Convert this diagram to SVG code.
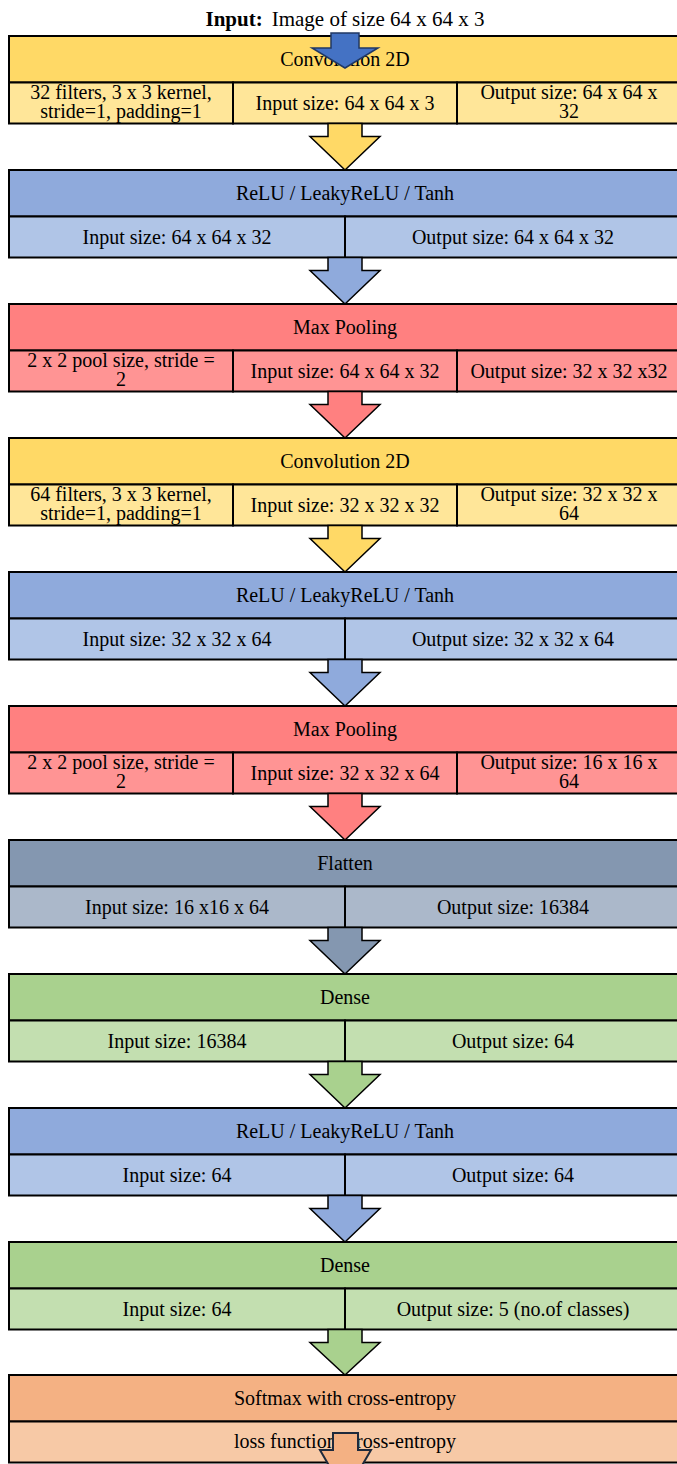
<svg xmlns="http://www.w3.org/2000/svg" width="677" height="1464" viewBox="0 0 677 1464">
<style>
rect{stroke:#000;stroke-width:2}
text{font-family:"Liberation Serif","Times New Roman",serif;font-size:20px;fill:#000;text-anchor:middle}
.conv-h{fill:#FFD966}.conv-s{fill:#FFE699}
.act-h{fill:#8FAADC}.act-s{fill:#B0C5E7}
.pool-h{fill:#FF8080}.pool-s{fill:#FF9494}
.flat-h{fill:#8497B0}.flat-s{fill:#ABB8CA}
.dense-h{fill:#A9D18E}.dense-s{fill:#C3DFB0}
.soft-h{fill:#F4B183}.soft-s{fill:#F7C9A6}
.arr{stroke:#000;stroke-width:1.5;stroke-linejoin:miter}
</style>
<rect width="677" height="1464" fill="#fff" style="stroke:none"/>
<text id="title" x="345" y="26" style="font-size:21px"><tspan font-weight="bold">Input:</tspan><tspan dx="9">Image of size 64 x 64 x 3</tspan></text>

<g id="conv1">
<rect class="conv-h" x="9" y="36" width="672" height="46.5"/>
<rect class="conv-s" x="9" y="82.5" width="224" height="41"/>
<rect class="conv-s" x="233" y="82.5" width="224" height="41"/>
<rect class="conv-s" x="457" y="82.5" width="224" height="41"/>
<text x="345" y="66">Convolution 2D</text>
<text x="121" y="99">32 filters, 3 x 3 kernel,</text>
<text x="121" y="118">stride=1, padding=1</text>
<text x="345" y="110">Input size: 64 x 64 x 3</text>
<text x="569" y="99">Output size: 64 x 64 x</text>
<text x="569" y="118">32</text>
</g>

<g id="act1">
<rect class="act-h" x="9" y="170" width="672" height="46.5"/>
<rect class="act-s" x="9" y="216.5" width="336" height="41"/>
<rect class="act-s" x="345" y="216.5" width="336" height="41"/>
<text x="345" y="200">ReLU / LeakyReLU / Tanh</text>
<text x="177" y="244">Input size: 64 x 64 x 32</text>
<text x="513" y="244">Output size: 64 x 64 x 32</text>
</g>

<g id="pool1">
<rect class="pool-h" x="9" y="304" width="672" height="46.5"/>
<rect class="pool-s" x="9" y="350.5" width="224" height="41"/>
<rect class="pool-s" x="233" y="350.5" width="224" height="41"/>
<rect class="pool-s" x="457" y="350.5" width="224" height="41"/>
<text x="345" y="334">Max Pooling</text>
<text x="121" y="367">2 x 2 pool size, stride =</text>
<text x="121" y="386">2</text>
<text x="345" y="378">Input size: 64 x 64 x 32</text>
<text x="569" y="378">Output size: 32 x 32 x32</text>
</g>

<g id="conv2">
<rect class="conv-h" x="9" y="438" width="672" height="46.5"/>
<rect class="conv-s" x="9" y="484.5" width="224" height="41"/>
<rect class="conv-s" x="233" y="484.5" width="224" height="41"/>
<rect class="conv-s" x="457" y="484.5" width="224" height="41"/>
<text x="345" y="468">Convolution 2D</text>
<text x="121" y="501">64 filters, 3 x 3 kernel,</text>
<text x="121" y="520">stride=1, padding=1</text>
<text x="345" y="512">Input size: 32 x 32 x 32</text>
<text x="569" y="501">Output size: 32 x 32 x</text>
<text x="569" y="520">64</text>
</g>

<g id="act2">
<rect class="act-h" x="9" y="572" width="672" height="46.5"/>
<rect class="act-s" x="9" y="618.5" width="336" height="41"/>
<rect class="act-s" x="345" y="618.5" width="336" height="41"/>
<text x="345" y="602">ReLU / LeakyReLU / Tanh</text>
<text x="177" y="646">Input size: 32 x 32 x 64</text>
<text x="513" y="646">Output size: 32 x 32 x 64</text>
</g>

<g id="pool2">
<rect class="pool-h" x="9" y="706" width="672" height="46.5"/>
<rect class="pool-s" x="9" y="752.5" width="224" height="41"/>
<rect class="pool-s" x="233" y="752.5" width="224" height="41"/>
<rect class="pool-s" x="457" y="752.5" width="224" height="41"/>
<text x="345" y="736">Max Pooling</text>
<text x="121" y="769">2 x 2 pool size, stride =</text>
<text x="121" y="788">2</text>
<text x="345" y="780">Input size: 32 x 32 x 64</text>
<text x="569" y="769">Output size: 16 x 16 x</text>
<text x="569" y="788">64</text>
</g>

<g id="flatten">
<rect class="flat-h" x="9" y="840" width="672" height="46.5"/>
<rect class="flat-s" x="9" y="886.5" width="336" height="41"/>
<rect class="flat-s" x="345" y="886.5" width="336" height="41"/>
<text x="345" y="870">Flatten</text>
<text x="177" y="914">Input size: 16 x16 x 64</text>
<text x="513" y="914">Output size: 16384</text>
</g>

<g id="dense1">
<rect class="dense-h" x="9" y="974" width="672" height="46.5"/>
<rect class="dense-s" x="9" y="1020.5" width="336" height="41"/>
<rect class="dense-s" x="345" y="1020.5" width="336" height="41"/>
<text x="345" y="1004">Dense</text>
<text x="177" y="1048">Input size: 16384</text>
<text x="513" y="1048">Output size: 64</text>
</g>

<g id="act3">
<rect class="act-h" x="9" y="1108" width="672" height="46.5"/>
<rect class="act-s" x="9" y="1154.5" width="336" height="41"/>
<rect class="act-s" x="345" y="1154.5" width="336" height="41"/>
<text x="345" y="1138">ReLU / LeakyReLU / Tanh</text>
<text x="177" y="1182">Input size: 64</text>
<text x="513" y="1182">Output size: 64</text>
</g>

<g id="dense2">
<rect class="dense-h" x="9" y="1242" width="672" height="46.5"/>
<rect class="dense-s" x="9" y="1288.5" width="336" height="41"/>
<rect class="dense-s" x="345" y="1288.5" width="336" height="41"/>
<text x="345" y="1272">Dense</text>
<text x="177" y="1316">Input size: 64</text>
<text x="513" y="1316">Output size: 5 (no.of classes)</text>
</g>

<g id="softmax">
<rect class="soft-h" x="9" y="1375" width="672" height="46.5"/>
<rect class="soft-s" x="9" y="1421.5" width="672" height="41"/>
<text x="345" y="1405">Softmax with cross-entropy</text>
<text x="345" y="1448">loss function: cross-entropy</text>
</g>

<g id="connectors">
<polygon points="331,33 359,33 359,48 378,48 345,68 312,48 331,48" fill="#4472C4" stroke="#203864" stroke-width="1.5"/>
<polygon class="arr conv-h" points="328,123.5 362,123.5 362,136.5 380,136.5 345,170 310,136.5 328,136.5"/>
<polygon class="arr act-h" points="328,257.5 362,257.5 362,270.5 380,270.5 345,304 310,270.5 328,270.5"/>
<polygon class="arr pool-h" points="328,391.5 362,391.5 362,404.5 380,404.5 345,438 310,404.5 328,404.5"/>
<polygon class="arr conv-h" points="328,525.5 362,525.5 362,538.5 380,538.5 345,572 310,538.5 328,538.5"/>
<polygon class="arr act-h" points="328,659.5 362,659.5 362,672.5 380,672.5 345,706 310,672.5 328,672.5"/>
<polygon class="arr pool-h" points="328,793.5 362,793.5 362,806.5 380,806.5 345,840 310,806.5 328,806.5"/>
<polygon class="arr flat-h" points="328,927.5 362,927.5 362,940.5 380,940.5 345,974 310,940.5 328,940.5"/>
<polygon class="arr dense-h" points="328,1061.5 362,1061.5 362,1074.5 380,1074.5 345,1108 310,1074.5 328,1074.5"/>
<polygon class="arr act-h" points="328,1195.5 362,1195.5 362,1208.5 380,1208.5 345,1242 310,1208.5 328,1208.5"/>
<polygon class="arr dense-h" points="328,1329.5 362,1329.5 362,1342.5 380,1342.5 345,1375 310,1342.5 328,1342.5"/>
<polygon points="333,1433 358,1433 358,1450 371,1450 345.5,1494 320,1450 333,1450" fill="#F4B183" stroke="#1F2A3C" stroke-width="2"/>
</g>
</svg>
